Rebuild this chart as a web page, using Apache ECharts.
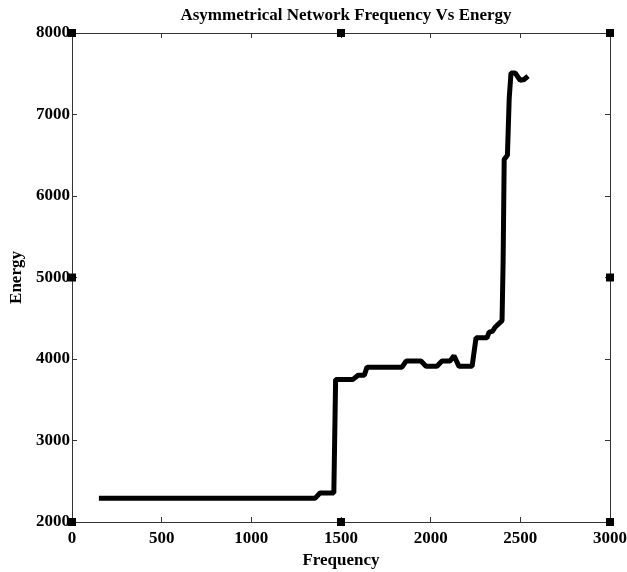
<!DOCTYPE html>
<html>
<head>
<meta charset="utf-8">
<script src="https://cdn.jsdelivr.net/npm/echarts@6/dist/echarts.min.js"></script>
<style>
  html, body { margin: 0; padding: 0; background: #fff; }
  #chart { width: 627px; height: 572px; }
</style>
</head>
<body>
<div id="chart"></div>
<script>
// values
var frequency = [150, 1355, 1383, 1460, 1470, 1567, 1595, 1630, 1645, 1840, 1863, 1946, 1974, 2035, 2063, 2108, 2130, 2158, 2231, 2253, 2314, 2326, 2345, 2359, 2398, 2404, 2410, 2420, 2428, 2438, 2448, 2471, 2499, 2521, 2543];
var energy    = [2290, 2290, 2355, 2355, 3750, 3750, 3800, 3800, 3900, 3900, 3975, 3975, 3910, 3910, 3975, 3975, 4040, 3910, 3910, 4260, 4260, 4330, 4340, 4390, 4470, 5200, 6450, 6450, 6500, 7200, 7510, 7510, 7420, 7430, 7470];

// the little black handles on the frame
var handleX = [0, 1500, 3000, 0, 3000, 0, 1500, 3000];
var handleY = [2000, 2000, 2000, 5000, 5000, 8000, 8000, 8000];

var font = 'Liberation Serif';

var chart = echarts.init(document.getElementById('chart'));

var lineData = frequency.map(function (f, i) { return [f, energy[i]]; });
var handleData = handleX.map(function (x, i) { return [x, handleY[i]]; });

var axisLine = { show: true, onZero: false, lineStyle: { color: '#333', width: 1 } };
var axisTick = { show: true, inside: true, length: 5, lineStyle: { color: '#333' } };
var plain = function (v) { return String(v); };

option = {
    animation: false,
    title: {
        text: 'Asymmetrical Network Frequency Vs Energy',
        left: 341,
        top: 2,
        textAlign: 'center',
        textStyle: { fontFamily: font, fontWeight: 'bold', fontSize: 17, color: '#000' }
    },
    grid: { left: 72, right: 17, top: 33, bottom: 50, outerBoundsMode: 'none', containLabel: false },
    xAxis: [
        {
            type: 'value', min: 0, max: 3000, interval: 500,
            name: 'Frequency', nameLocation: 'middle', nameGap: 29,
            nameTextStyle: { fontFamily: font, fontWeight: 'bold', fontSize: 17, color: '#000' },
            axisLine: axisLine, axisTick: axisTick, splitLine: { show: false },
            axisLabel: { fontFamily: font, fontWeight: 'bold', fontSize: 17, color: '#000', margin: 8, formatter: plain }
        },
        {
            type: 'value', position: 'top', min: 0, max: 3000, interval: 500,
            axisLine: axisLine, axisTick: axisTick, splitLine: { show: false },
            axisLabel: { show: false }
        }
    ],
    yAxis: [
        {
            type: 'value', min: 2000, max: 8000, interval: 1000,
            name: 'Energy', nameLocation: 'middle', nameGap: 47, nameRotate: 90,
            nameTextStyle: { fontFamily: font, fontWeight: 'bold', fontSize: 17, color: '#000' },
            axisLine: axisLine, axisTick: axisTick, splitLine: { show: false },
            axisLabel: { fontFamily: font, fontWeight: 'bold', fontSize: 17, color: '#000', margin: 2, formatter: plain }
        },
        {
            type: 'value', position: 'right', min: 2000, max: 8000, interval: 1000,
            axisLine: axisLine, axisTick: axisTick, splitLine: { show: false },
            axisLabel: { show: false }
        }
    ],
    series: [
        {
            type: 'line',
            data: lineData,
            showSymbol: false,
            lineStyle: { color: '#000', width: 5 },
            itemStyle: { color: '#000' }
        },
        {
            type: 'scatter',
            data: handleData,
            symbol: 'rect',
            symbolSize: 8,
            clip: false,
            itemStyle: { color: '#000', opacity: 1 }
        }
    ]
};

chart.setOption(option);
</script>
</body>
</html>
